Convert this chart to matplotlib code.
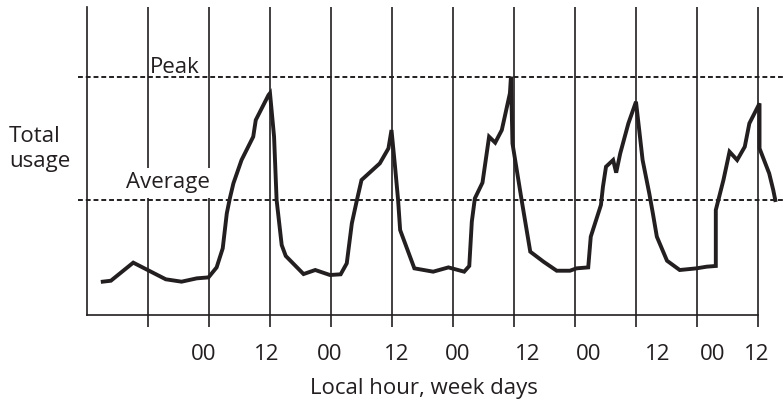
import matplotlib.pyplot as plt

plt.rcParams['font.family'] = ['Open Sans', 'DejaVu Sans']

# hours relative to the first midnight, usage in arbitrary units (peak = 100)
hours = [-20.9, -19.3, -14.9, -8.5, -5.4, -2.4, -0.1, 1.5, 2.7, 3.5, 4.1, 4.8,
         6.4, 8.7, 9.2, 11.7, 12.0, 12.8, 13.3, 14.3, 15.1, 18.6, 20.9, 23.8,
         25.9, 27.1, 28.1, 29.1, 30.0, 33.6, 35.3, 35.9, 36.6, 37.2, 37.6,
         40.4, 44.1, 47.1, 50.2, 51.2, 51.7, 52.3, 53.8, 55.1, 56.3, 57.6,
         59.2, 59.4, 59.7, 61.5, 63.2, 65.8, 68.4, 71.0, 72.3, 74.6, 75.1,
         77.1, 77.5, 78.1, 79.5, 80.1, 80.9, 82.5, 84.0, 85.3, 86.6, 87.3,
         88.1, 90.1, 92.6, 95.9, 97.9, 99.7, 99.7, 101.2, 102.4, 103.9, 105.4,
         106.3, 108.3, 108.3, 110.2, 111.0, 111.4]
usage = [14.0, 14.4, 22.0, 15.0, 14.0, 15.4, 15.8, 20.0, 28.0, 42.7, 49.0, 55.3,
         65.1, 74.9, 81.9, 92.4, 93.2, 74.9, 48.3, 29.4, 24.8, 17.2, 18.9, 16.8,
         17.1, 21.7, 38.5, 48.3, 56.7, 63.7, 70.0, 77.7, 62.3, 48.3, 35.7,
         19.6, 18.2, 20.0, 18.2, 20.6, 39.2, 49.0, 55.6, 74.9, 72.4, 77.7,
         93.2, 100.1, 72.1, 48.3, 26.6, 22.4, 18.6, 18.6, 19.6, 20.0, 32.9,
         46.2, 53.9, 62.3, 65.1, 59.8, 67.9, 80.5, 89.6, 65.1, 51.2, 42.9,
         32.9, 22.8, 18.9, 19.6, 20.3, 20.6, 44.1, 56.7, 68.6, 65.1, 70.7,
         80.5, 88.9, 70.0, 59.5, 52.5, 48.3]

peak = 100.0
average = 48.3

grid_hours = [-12, 0, 12, 24, 36, 48, 60, 72, 84, 96, 108]
tick_text = ['00', '12', '00', '12', '00', '12', '00', '12', '00', '12']
tick_at = [-1, 11.4, 23.8, 37, 49, 62.6, 74.6, 88.3, 99, 107.8]

ink = '#231f20'

fig = plt.figure(figsize=(7.83, 4.03), dpi=100)
ax = fig.add_axes([87 / 783, 88 / 403, 671 / 783, 308 / 403])
ax.set_xlim(-24, 108)
ax.set_ylim(0, 129.4)

for s in ['top', 'right']:
    ax.spines[s].set_visible(False)
for s in ['left', 'bottom']:
    ax.spines[s].set_linewidth(1.2)
    ax.spines[s].set_color(ink)
ax.set_yticks([])

ax.vlines(grid_hours, -5.0, 129.4, color=ink, lw=1.2, clip_on=False, zorder=1)

ax.set_xticks(tick_at)
ax.set_xticklabels(tick_text, fontsize=16, color=ink)
ax.tick_params(axis='x', length=0, pad=21)

ax.hlines([peak, average], -25.8, 112.9, color=ink, lw=1.4,
          linestyles=[(0, (2.5, 1.5))], clip_on=False, zorder=2)

ax.plot(hours, usage, color=ink, lw=2.8, clip_on=False, zorder=3,
        solid_joinstyle='miter')

ax.text(-6.7, 101.7, 'Peak', fontsize=16, color=ink, ha='center',
        va='baseline', zorder=4)
ax.text(-8.1, 53.2, 'Average', fontsize=16, color=ink, ha='center',
        va='baseline', zorder=4,
        bbox=dict(facecolor='white', edgecolor='none', pad=3))

fig.text(9 / 783, 1 - 142 / 403, 'Total', fontsize=16, color=ink,
         ha='left', va='baseline')
fig.text(9 / 783, 1 - 167 / 403, 'usage', fontsize=16, color=ink,
         ha='left', va='baseline')
fig.text(424 / 783, 1 - 394 / 403, 'Local hour, week days', fontsize=16,
         color=ink, ha='center', va='baseline')

fig.savefig('out.png', dpi=100)
